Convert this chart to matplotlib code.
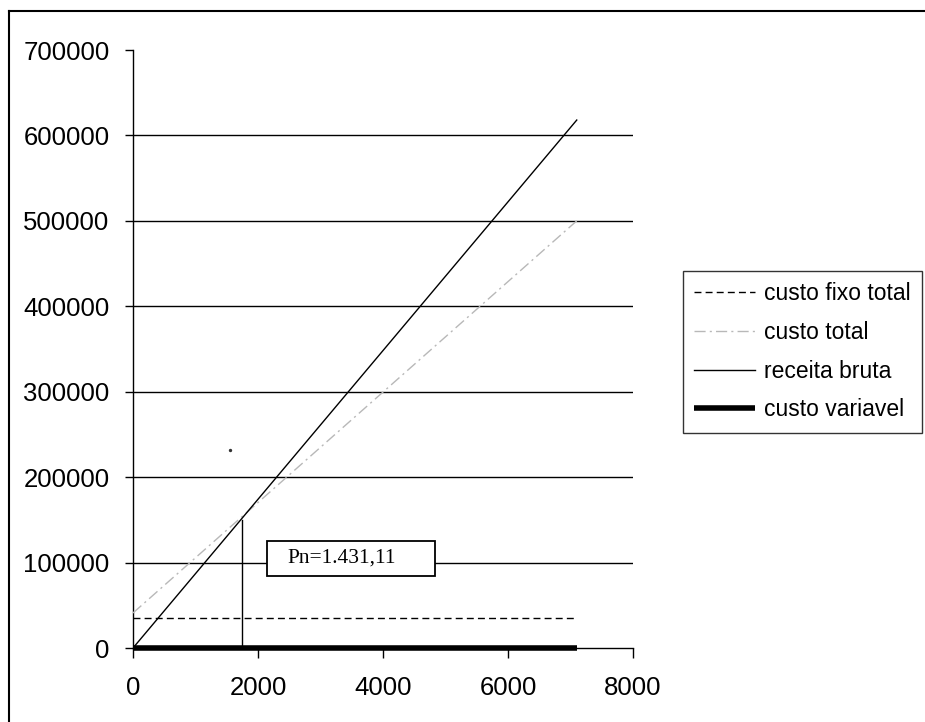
import matplotlib
matplotlib.use("Agg")
import matplotlib.pyplot as plt
from matplotlib.lines import Line2D
from matplotlib.patches import Rectangle

# ---- data ----
quantidade = [0, 7100]
custo_fixo_total = [35000, 35000]
custo_total = [41000, 500000]
receita_bruta = [0, 618000]
custo_variavel = [0, 0]

pn_x = [1740, 1740]
pn_y = [0, 150000]
pn_label = "Pn=1.431,11"
stray_x = [1552]
stray_y = [231800]

x_ticks = [0, 2000, 4000, 6000, 8000]
y_ticks = [0, 100000, 200000, 300000, 400000, 500000, 600000, 700000]
grid_values = [100000, 200000, 300000, 400000, 500000, 600000]

plt.rcParams['font.family'] = ['Liberation Sans', 'DejaVu Sans']

W, H = 925, 722
fig = plt.figure(figsize=(W / 100, H / 100), dpi=100)
ax = fig.add_axes([133 / W, 1 - 648 / H, 500 / W, 598 / H])

ax.hlines(grid_values, 0, 8000, colors='black', linewidth=1.0, zorder=1)

l1, = ax.plot(quantidade, custo_fixo_total, color='black', linewidth=1.0,
              dashes=(5, 3), label='custo fixo total', zorder=3)
l2, = ax.plot(quantidade, custo_total, color='#b8b8b8', linewidth=1.0,
              dashes=(8, 3, 1.5, 3), label='custo total', zorder=3)
l3, = ax.plot(quantidade, receita_bruta, color='black', linewidth=1.0,
              label='receita bruta', zorder=4)
l4, = ax.plot(quantidade, custo_variavel, color='black', linewidth=4.0,
              solid_capstyle='butt', label='custo variavel', zorder=5, clip_on=False)

ax.plot(pn_x, pn_y, color='black', linewidth=1.0, zorder=4)
ax.scatter(stray_x, stray_y, s=2, color='#333333', zorder=4)

# text box
ax.add_patch(Rectangle((2144, 84300), 4832 - 2144, 125200 - 84300,
                       facecolor='white', edgecolor='black', linewidth=1.3, zorder=6))
ax.text(2464, 105000, pn_label, family=['Liberation Serif', 'DejaVu Serif'],
        fontsize=15.5, ha='left', va='center', zorder=7)

ax.set_xlim(0, 8000)
ax.set_ylim(0, 700000)
ax.set_xticks(x_ticks)
ax.set_yticks(y_ticks)
ax.set_xticklabels([str(v) for v in x_ticks])
ax.set_yticklabels([str(v) for v in y_ticks])
ax.tick_params(axis='both', direction='out', labelsize=18.5, colors='black', width=1.0)
ax.tick_params(axis='y', length=6, pad=11)
ax.tick_params(axis='x', length=7, pad=13)
for s in ['top', 'right']:
    ax.spines[s].set_visible(False)
for s in ['left', 'bottom']:
    ax.spines[s].set_linewidth(1.0)
    ax.spines[s].set_color('black')

leg = fig.legend(handles=[l1, l2, l3, l4], loc='upper left',
                 bbox_to_anchor=(683 / W, 1 - 271 / H), fontsize=16.5,
                 frameon=True, fancybox=False, shadow=False,
                 handlelength=2.65, handletextpad=0.4, labelspacing=0.68,
                 borderpad=0.5, borderaxespad=0)
leg.get_frame().set_edgecolor('black')
leg.get_frame().set_linewidth(1.0)

# outer frame (left and top edges only visible)
fig.add_artist(Line2D([9 / W, 9 / W], [0, 1 - 11 / H], transform=fig.transFigure,
                      color='black', linewidth=1.5))
fig.add_artist(Line2D([9 / W, 1], [1 - 11 / H, 1 - 11 / H], transform=fig.transFigure,
                      color='black', linewidth=1.5))

fig.savefig('out.png', dpi=100)
